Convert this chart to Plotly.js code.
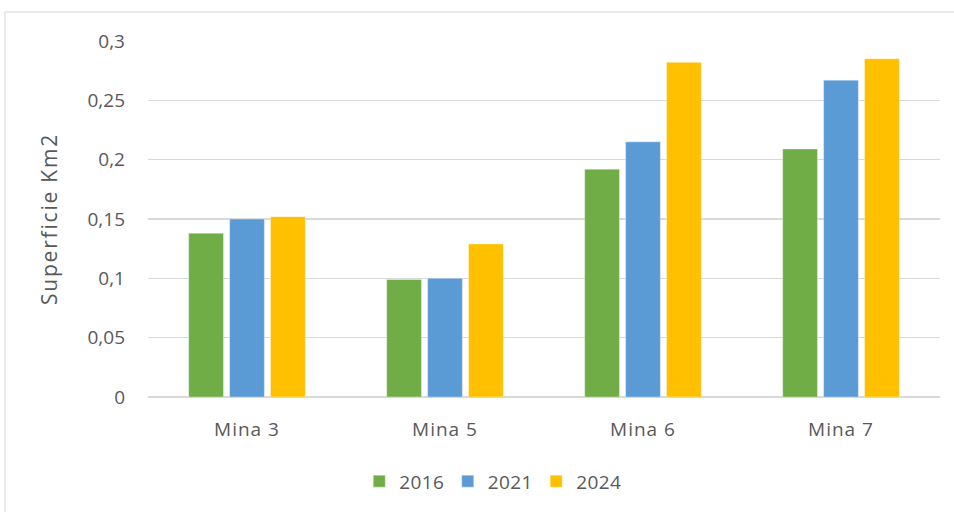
<!DOCTYPE html>
<html>
<head>
<meta charset="utf-8">
<script src="https://cdn.plot.ly/plotly-3.0.1.min.js"></script>
<style>
html,body{margin:0;padding:0;background:#fff;}
#chart{width:954px;height:512px;}
#chart .xtick text{letter-spacing:1px;}
#chart .g-ytitle text{letter-spacing:1.8px;}
#chart .legendtext{letter-spacing:0.4px;}
</style>
</head>
<body>
<div id="chart"></div>
<script>
const categories = ["Mina 3", "Mina 5", "Mina 6", "Mina 7"];
const seriesNames = ["2016", "2021", "2024"];
const values2016 = [0.138, 0.099, 0.192, 0.209];
const values2021 = [0.150, 0.100, 0.215, 0.267];
const values2024 = [0.152, 0.129, 0.282, 0.285];
const yTickVals = [0, 0.05, 0.1, 0.15, 0.2, 0.25, 0.3];
const yTickText = ["0", "0,05", "0,1", "0,15", "0,2", "0,25", "0,3"];
const colors = ["#70AD47", "#5B9BD5", "#FFC000"];

const FONT = "'Open Sans', 'Noto Sans', sans-serif";
const TXT = "#595959";
const allValues = [values2016, values2021, values2024];
const traces = allValues.map((vals, i) => ({
  type: "bar",
  name: seriesNames[i],
  x: categories,
  y: vals,
  marker: {color: colors[i], line: {color: "rgba(255,255,255,0.35)", width: 1}},
  hoverinfo: "none"
}));

const layout = {
  width: 954, height: 512,
  margin: {l: 148, r: 14, t: 41, b: 115},
  paper_bgcolor: "#ffffff", plot_bgcolor: "#ffffff",
  barmode: "group",
  bargap: 0.38,
  bargroupgap: 0.15,
  separators: ", ",
  font: {family: FONT, size: 19, color: TXT},
  xaxis: {
    showgrid: false, showline: false, zeroline: false,
    ticks: "", ticklabelstandoff: 19,
    tickfont: {family: FONT, size: 19, color: TXT}
  },
  yaxis: {
    range: [0, 0.3],
    tickvals: yTickVals, ticktext: yTickText,
    showgrid: true, gridcolor: "#d9d9d9", gridwidth: 1.5,
    zeroline: true, zerolinecolor: "#d9d9d9", zerolinewidth: 1.5,
    showline: false, ticks: "", ticklabelstandoff: 22,
    tickfont: {family: FONT, size: 19, color: TXT},
    title: {text: "Superficie Km2", font: {family: FONT, size: 21, color: TXT}, standoff: 24}
  },
  legend: {
    orientation: "h",
    xref: "container", yref: "container",
    x: 0.516, xanchor: "center",
    y: 0.06, yanchor: "middle",
    font: {family: FONT, size: 19, color: TXT},
    itemwidth: 30,
    traceorder: "normal"
  },
  shapes: [{
    type: "rect", xref: "paper", yref: "paper",
    x0: -0.1806, x1: 1.2, y0: -0.5, y1: 1.0815,
    line: {color: "#d9d9d9", width: 1}, fillcolor: "rgba(0,0,0,0)", layer: "below"
  }],
  showlegend: true
};

Plotly.newPlot("chart", traces, layout, {staticPlot: true, displayModeBar: false});
</script>
</body>
</html>
